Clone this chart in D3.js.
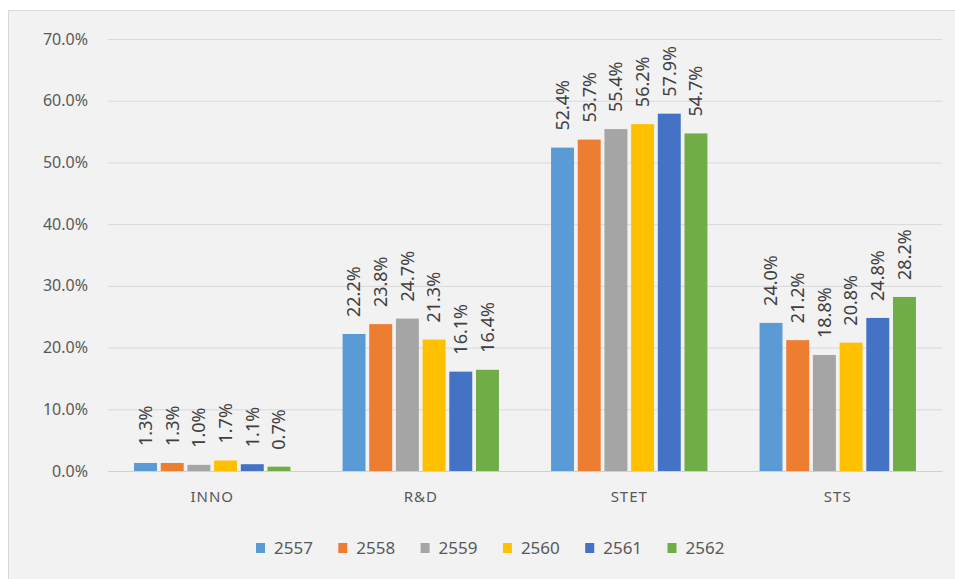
<!DOCTYPE html>
<html>
<head>
<meta charset="utf-8">
<script src="https://cdn.jsdelivr.net/npm/d3@7"></script>
<style>
  body { margin: 0; background: #fff; }
  svg { display: block; }
</style>
</head>
<body>
<div id="chart"></div>
<script>
// data
var categories = ["INNO", "R&D", "STET", "STS"];
var years = ["2557", "2558", "2559", "2560", "2561", "2562"];
var colors = ["#5B9BD5", "#ED7D31", "#A5A5A5", "#FFC000", "#4472C4", "#70AD47"];
var values = {
    "2557": [1.3, 22.2, 52.4, 24.0],
    "2558": [1.3, 23.8, 53.7, 21.2],
    "2559": [1.0, 24.7, 55.4, 18.8],
    "2560": [1.7, 21.3, 56.2, 20.8],
    "2561": [1.1, 16.1, 57.9, 24.8],
    "2562": [0.7, 16.4, 54.7, 28.2]
};
var yTicks = [0, 10, 20, 30, 40, 50, 60, 70];

var W = 955, H = 579;
var margin = {top: 39, right: 13, bottom: 108, left: 108},
    width = W - margin.left - margin.right,
    height = H - margin.top - margin.bottom;

var svg = d3.select("#chart").append("svg")
    .attr("width", W)
    .attr("height", H);

// chart frame
svg.append("rect")
    .attr("x", 8.5).attr("y", 10.5)
    .attr("width", W - 8).attr("height", H - 10)
    .attr("fill", "#f2f2f2")
    .attr("stroke", "#d9d9d9");

var g = svg.append("g")
    .attr("transform", "translate(" + margin.left + "," + margin.top + ")");

var x0 = d3.scaleBand()
    .domain(categories)
    .range([0, width])
    .paddingInner(0.25)
    .paddingOuter(0.125);

var x1 = d3.scaleBand()
    .domain(years)
    .range([0, x0.bandwidth()])
    .paddingInner(0.14);

var y = d3.scaleLinear()
    .domain([0, 70])
    .range([height, 0]);

// gridlines + y labels
var yAxis = g.append("g")
    .call(d3.axisLeft(y)
        .tickValues(yTicks)
        .tickSize(-width)
        .tickPadding(20)
        .tickFormat(function(d) { return d.toFixed(1) + "%"; }));
yAxis.select(".domain").remove();
yAxis.selectAll(".tick line").attr("stroke", "#d9d9d9");
yAxis.selectAll(".tick text")
    .attr("fill", "#595959")
    .style("font-family", "'Noto Sans', sans-serif")
    .style("font-size", "16px");

// bars
var groups = g.selectAll(".grp")
    .data(categories)
    .enter().append("g")
    .attr("class", "grp")
    .attr("transform", function(d) { return "translate(" + x0(d) + ",0)"; });

var cells = groups.selectAll(".bar")
    .data(function(c, i) {
        return years.map(function(yr, j) { return {year: yr, v: values[yr][i], c: colors[j]}; });
    })
    .enter().append("g")
    .attr("class", "bar");

cells.append("rect")
    .attr("x", function(d) { return x1(d.year); })
    .attr("y", function(d) { return y(d.v); })
    .attr("width", x1.bandwidth())
    .attr("height", function(d) { return height - y(d.v); })
    .attr("fill", function(d) { return d.c; });

cells.append("text")
    .attr("transform", function(d) {
        return "translate(" + (x1(d.year) + x1.bandwidth() / 2) + "," + (y(d.v) - 17) + ") rotate(-90)";
    })
    .attr("dy", "0.35em")
    .attr("fill", "#404040")
    .style("font-family", "'Noto Sans', sans-serif")
    .style("font-size", "18px")
    .text(function(d) { return d.v.toFixed(1) + "%"; });

// x axis
var xAxis = g.append("g")
    .attr("transform", "translate(0," + height + ")")
    .call(d3.axisBottom(x0).tickSize(0).tickPadding(20));
xAxis.select(".domain").attr("stroke", "#d0d0d0");
xAxis.selectAll(".tick text")
    .attr("fill", "#595959")
    .style("font-family", "'Noto Sans', sans-serif")
    .style("font-size", "15px")
    .style("letter-spacing", "1px");

// legend
var legend = svg.append("g")
    .attr("transform", "translate(256,548)");
var items = legend.selectAll(".item")
    .data(years)
    .enter().append("g")
    .attr("class", "item")
    .attr("transform", function(d, i) { return "translate(" + (i * 82.3) + ",0)"; });
items.append("rect")
    .attr("x", 0).attr("y", -5)
    .attr("width", 9).attr("height", 10)
    .attr("fill", function(d, i) { return colors[i]; });
items.append("text")
    .attr("x", 18)
    .attr("dy", "0.35em")
    .attr("fill", "#595959")
    .style("font-family", "'Noto Sans', sans-serif")
    .style("font-size", "17px")
    .text(function(d) { return d; });
</script>
</body>
</html>
